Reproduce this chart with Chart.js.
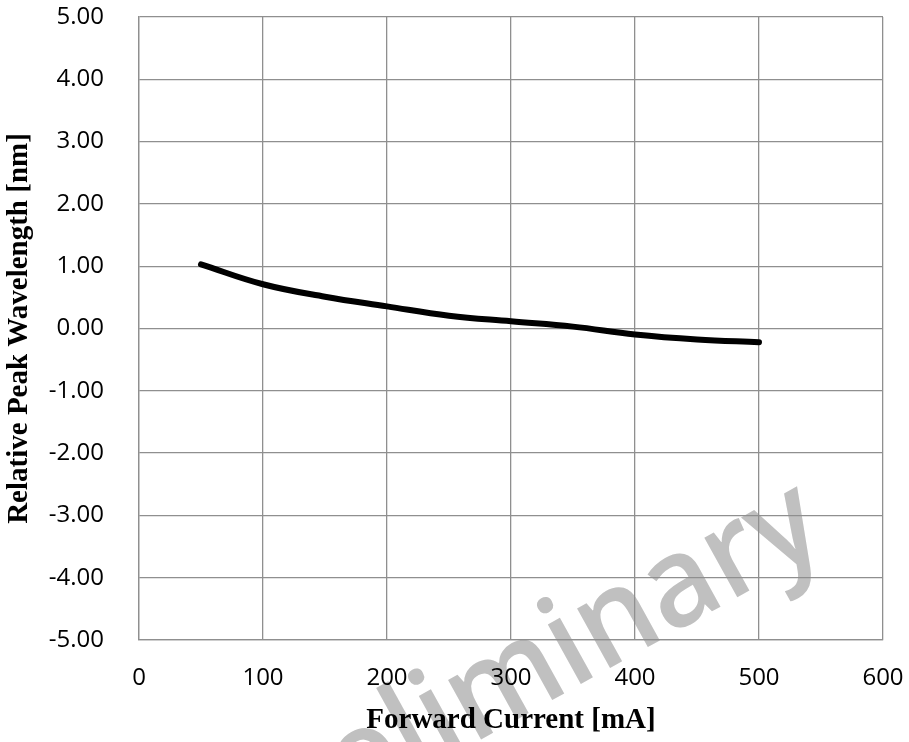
<!DOCTYPE html>
<html>
<head>
<meta charset="utf-8">
<script src="https://cdn.jsdelivr.net/npm/chart.js@4.4.1/dist/chart.umd.min.js"></script>
<style>
  html, body { margin: 0; padding: 0; background: #ffffff; overflow: hidden; }
  canvas { display: block; }
</style>
</head>
<body>
<canvas id="shiftChart" width="909" height="742"></canvas>
<script>
// Relative peak wavelength vs forward current
const currents = [50, 100, 150, 200, 250, 300, 350, 400, 450, 500];
const shifts = [1.03, 0.71, 0.51, 0.355, 0.205, 0.115, 0.03, -0.095, -0.175, -0.22];
const xTicks = [0, 100, 200, 300, 400, 500, 600];
const yTicks = [-5, -4, -3, -2, -1, 0, 1, 2, 3, 4, 5];

const gridColor = "#8f8f8f";
const tickFont = { family: "Open Sans", size: 24 };
const titleFont = { family: "Liberation Serif", size: 29, weight: "bold" };

// light "Preliminary" stamp behind the grid
const watermark = {
  id: "watermark",
  beforeDraw(chart) {
    const ctx = chart.ctx;
    ctx.save();
    ctx.translate(830, 546);
    ctx.rotate(-29 * Math.PI / 180);
    ctx.scale(0.95, 1);
    ctx.font = "600 126px 'Open Sans'";
    ctx.fillStyle = "#c0c0c0";
    ctx.textAlign = "right";
    ctx.textBaseline = "alphabetic";
    ctx.fillText("Preliminary", 0, 0);
    ctx.restore();
  },
};

const ctx = document.getElementById("shiftChart").getContext("2d");
new Chart(ctx, {
  type: "line",
  data: {
    datasets: [
      {
        data: currents.map((c, i) => ({ x: c, y: shifts[i] })),
        borderColor: "#000000",
        borderWidth: 6,
        borderCapStyle: "round",
        tension: 0.4,
        pointRadius: 0,
        fill: false,
      },
    ],
  },
  options: {
    responsive: false,
    animation: false,
    layout: { padding: { left: 0, right: 26, top: 17, bottom: 0 } },
    plugins: { legend: { display: false }, tooltip: { enabled: false } },
    scales: {
      x: {
        type: "linear",
        min: xTicks[0],
        max: xTicks[xTicks.length - 1],
        afterBuildTicks: (s) => { s.ticks = xTicks.map((v) => ({ value: v })); },
        afterFit: (s) => { s.height = 102; s.paddingLeft = 0; s.paddingRight = 0; },
        ticks: { font: tickFont, color: "#000", padding: 24, maxRotation: 0 },
        grid: { color: gridColor, lineWidth: 1.3, drawTicks: false },
        border: { color: gridColor, width: 1.3 },
        title: {
          display: true,
          text: "Forward Current [mA]",
          font: titleFont,
          color: "#000",
          padding: { top: 0, bottom: 4 },
        },
      },
      y: {
        min: yTicks[0],
        max: yTicks[yTicks.length - 1],
        afterBuildTicks: (s) => { s.ticks = yTicks.map((v) => ({ value: v })); },
        afterFit: (s) => { s.width = 139; s.paddingTop = 0; s.paddingBottom = 0; },
        ticks: {
          font: tickFont,
          color: "#000",
          padding: 35,
          callback: (v) => v.toFixed(2),
        },
        grid: { color: gridColor, lineWidth: 1.3, drawTicks: false },
        border: { color: gridColor, width: 1.3 },
        title: {
          display: true,
          text: "Relative Peak Wavelength [nm]",
          font: titleFont,
          color: "#000",
          padding: { top: 2, bottom: 0 },
        },
      },
    },
  },
  plugins: [watermark],
});
</script>
</body>
</html>
